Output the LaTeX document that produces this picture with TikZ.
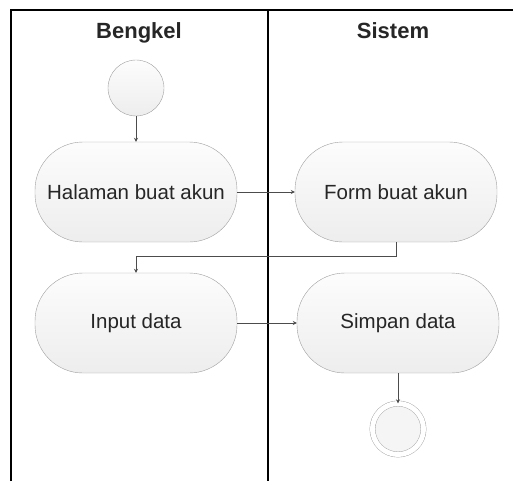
\documentclass[tikz,border=0pt]{standalone}
\usepackage{fontspec}
\setmainfont{Liberation Sans}
\usepackage{tikz}
\usetikzlibrary{arrows.meta}
\tikzstyle{act}=[draw=gray!75, shape=rectangle, rounded corners=48pt, minimum width=202pt, minimum height=100pt, top color=gray!2, bottom color=gray!14, text=black!85, font=\fontsize{20.5}{24}\selectfont]
\tikzstyle{startc}=[draw=gray!75, shape=circle, minimum size=56pt, inner sep=0pt, top color=gray!2, bottom color=gray!14]
\tikzstyle{endc}=[draw=gray!75, shape=circle, minimum size=51pt, inner sep=0pt, double, double distance=5pt, fill=gray!8]
\tikzstyle{flow}=[draw=gray!60!black, line width=0.9pt, -{Stealth[length=4pt, width=4pt]}]
\tikzstyle{head}=[anchor=base, text=black!85, font=\bfseries\fontsize{22}{24}\selectfont]

\begin{document}
\begin{tikzpicture}[x=1pt, y=-1pt]
		\useasboundingbox (0,0) rectangle (513,481);

		% lanes
		\draw[line width=1.5pt] (11,481) -- (11,10) -- (513,10);
		\draw[line width=1.5pt] (268,10) -- (268,481);
		\node[style=head] (0a) at (139,39) {Bengkel};
		\node[style=head] (0b) at (393,39) {Sistem};

		\node[style=startc] (1) at (136,88) {};
		\node[style=act] (2) at (136,192) {Halaman buat akun};
		\node[style=act] (3) at (396,192) {Form buat akun};
		\node[style=act] (4) at (136,323) {Input data};
		\node[style=act] (5) at (398,323) {Simpan data};
		\node[style=endc] (6) at (398,429) {};

		\draw[style=flow] (1) to (2);
		\draw[style=flow] (2) to (3);
		\draw[style=flow] (3.south) -- ++(0,14) -| (4.north);
		\draw[style=flow] (4) to (5);
		\draw[style=flow] (5) to (6);
	\end{tikzpicture}
\end{document}
